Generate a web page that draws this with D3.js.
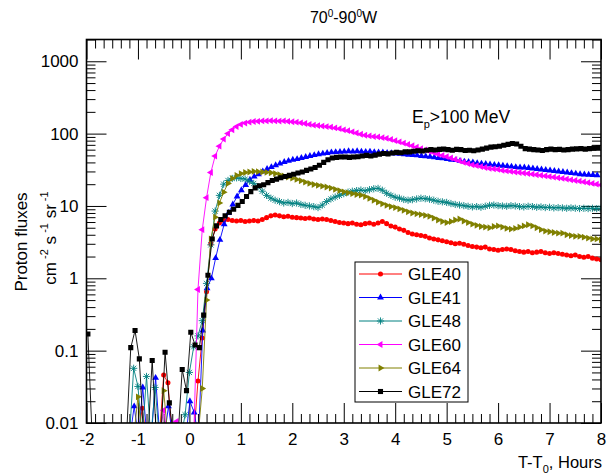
<!DOCTYPE html>
<html>
<head>
<meta charset="utf-8">
<script src="https://cdn.jsdelivr.net/npm/d3@7"></script>
<style>
  body { margin: 0; background: #fff; }
  svg { display: block; }
  text { font-family: Arial, "Liberation Sans", Helvetica, sans-serif; fill: #000; }
</style>
</head>
<body>
<svg id="chart" width="613" height="475"></svg>
<script>
// Time axis (hours after T0) and flux axis ticks
const hourTicks = [-2, -1, 0, 1, 2, 3, 4, 5, 6, 7, 8];
const hourTickLabels = ["-2", "-1", "0", "1", "2", "3", "4", "5", "6", "7", "8"];
const fluxTicks = [0.01, 0.1, 1, 10, 100, 1000];
const fluxTickLabels = ["0.01", "0.1", "1", "10", "100", "1000"];

// 5-minute samples; 0 means no count above background (drawn below the axis)
const sampleStep = 1 / 12;

const gle40Start = -2;
const gle40 = [
  0, 0, 0, 0, 0, 0, 0, 0, 0, 0, 0, 0,
  0, 0.016, 0, 0, 0, 0, 0.046, 0.036, 0, 0, 0, 0,
  0, 0, 0.038, 0.15, 0.65, 3.0, 4.8, 5.8, 6.3, 6.5, 6.3, 6.2,
  6.3, 6.1, 6.2, 6.3, 6.2, 6.5, 6.9, 7.3, 7.5, 7.3, 7.1, 7.2,
  7.0, 6.9, 6.8, 6.7, 6.8, 6.6, 6.5, 6.6, 6.5, 6.3, 6.1, 5.9,
  5.8, 5.7, 5.8, 5.6, 5.5, 5.7, 5.8, 5.6, 5.8, 6.1, 5.7, 5.3,
  5.1, 4.8, 4.6, 4.3, 4.1, 4.0, 3.9, 3.8, 3.6, 3.5, 3.4, 3.3,
  3.2, 3.1, 3.0, 3.05, 2.95, 2.85, 2.75, 2.7, 2.65, 2.7, 2.55, 2.5,
  2.45, 2.5, 2.55, 2.5, 2.4, 2.35, 2.3, 2.35, 2.25, 2.3, 2.35, 2.25,
  2.2, 2.25, 2.2, 2.15, 2.1, 2.05, 2.1, 2.0, 1.95, 2.0, 1.9, 1.85,
  1.8
];

const gle41Start = -1.99;
const gle41 = [
  0, 0, 0, 0, 0, 0, 0, 0, 0, 0, 0, 0.017,
  0, 0.031, 0, 0, 0.042, 0, 0, 0.017, 0, 0, 0, 0,
  0.02, 0.014, 0, 0.19, 0.73, 1.0, 1.9, 3.4, 5.6, 8.0, 10.5, 13.5,
  16.5, 19.5, 23, 25.5, 27.5, 30, 32.5, 34.5, 36.5, 38.5, 40.5, 42,
  43.5, 44.5, 46, 47.5, 49, 50.5, 52, 53, 54, 55, 55.5, 56,
  56.5, 57, 56.5, 57, 56.5, 56, 56.5, 55.5, 55, 55, 54, 53.5,
  53, 52.5, 52, 51, 50.5, 50, 49, 48.5, 48, 47, 46, 45.5,
  44.5, 43.5, 43, 42, 41, 40.5, 40, 39, 38.5, 38, 37.5, 37,
  36.5, 36, 35.5, 35, 34.5, 34, 34, 33.5, 33, 32.5, 32, 31.5,
  31, 30.5, 30, 29.5, 29, 28.5, 28, 27.5, 27.2, 27, 26.8, 26.5
];

const gle48Start = -2;
const gle48 = [
  0, 0, 0, 0, 0, 0, 0, 0, 0, 0, 0, 0.057,
  0.032, 0, 0.044, 0, 0.031, 0, 0, 0, 0, 0, 0, 0.013,
  0.05, 0.113, 0.16, 0.26, 0.85, 2.9, 8.5, 14, 20, 22.5, 24, 24.5,
  24, 23.5, 22, 20.5, 18.5, 16, 14, 12.8, 12, 11.5, 11, 11.2,
  10.8, 11, 10.5, 10.2, 10, 9.8, 9.5, 10.3, 11.5, 12.5, 13.3, 14,
  14.8, 15.5, 16, 16.3, 16.6, 16.2, 16.8, 17.3, 17.5, 16.5, 15, 14,
  13.2, 12.8, 12.3, 12, 12.2, 12.5, 12.8, 12.6, 12.4, 12, 11.6, 11.4,
  11.2, 10.8, 10.5, 10.3, 10.1, 9.9, 9.7, 9.8, 9.6, 9.9, 10.2, 10.3,
  10.1, 10, 9.9, 10.1, 10, 9.8, 9.7, 9.9, 9.8, 9.6, 9.7, 9.5,
  9.6, 9.4, 9.5, 9.4, 9.3, 9.4, 9.3, 9.2, 9.3, 9.2, 9.3, 9.2,
  9.3
];

const gle60Start = -2;
const gle60 = [
  0, 0, 0, 0, 0, 0, 0, 0, 0, 0, 0, 0,
  0, 0, 0, 0, 0, 0, 0.015, 0, 0, 0.0105, 0, 0,
  0, 0, 0.7, 4.7, 13, 29, 49, 67, 84, 100, 113, 125,
  134, 140, 144, 147, 148, 150, 150, 151, 150, 149, 150, 148,
  146, 144, 141, 138, 134, 131, 129, 127, 125, 123, 120, 117,
  113, 110, 106, 102, 98, 95, 93, 91, 90, 88, 86, 83,
  80, 77, 74, 71, 68, 65, 62, 59.5, 57, 54.5, 52, 50,
  48, 46, 44, 42, 40, 38.5, 37, 36, 35, 34, 33, 32.5,
  32, 31, 30.5, 30, 29.5, 29, 28.5, 28, 27.5, 27, 26.5, 26,
  25.5, 25, 24.5, 24, 23.5, 23, 22.5, 22, 21.5, 21, 20.5, 20,
  19.5
];

const gle64Start = -2;
const gle64 = [
  0, 0, 0, 0, 0, 0, 0, 0, 0, 0, 0, 0,
  0.023, 0, 0, 0, 0, 0, 0.028, 0, 0, 0, 0, 0,
  0, 0, 0, 0.03, 0.5, 3.5, 7, 11, 15.5, 20.5, 24, 26.5,
  28, 29, 29.5, 30, 29.8, 29.5, 29.2, 28.8, 28, 27, 26, 25,
  24.2, 23.3, 22.3, 21.3, 20.5, 19.8, 19.3, 18.8, 18.3, 17.7, 17, 16.3,
  15.7, 15.2, 14.8, 14.4, 14.1, 13.5, 12.7, 12, 11.3, 10.7, 10.2, 9.8,
  9.5, 9.1, 8.7, 8.3, 8.0, 7.8, 7.6, 7.4, 7.2, 6.8, 6.4, 6.1,
  5.9, 6.1, 6.4, 6.6, 6.2, 5.9, 5.6, 5.4, 5.2, 5.1, 5.0, 5.2,
  5.3, 5.1, 4.9, 4.8, 4.9, 5.1, 5.3, 5.5, 5.3, 5.0, 4.7, 4.5,
  4.4, 4.3, 4.2, 4.2, 4.0, 3.9, 3.8, 3.8, 3.7, 3.6, 3.5, 3.5,
  3.4
];

const gle72Start = -1.973;
const gle72 = [
  0.17, 0, 0, 0, 0, 0, 0, 0, 0, 0, 0.11, 0.19,
  0.077, 0, 0, 0.073, 0, 0, 0.095, 0.019, 0, 0, 0.055, 0.028,
  0.18, 0.12, 0.11, 0.31, 1.1, 3.5, 5.3, 6.5, 7.3, 8.2, 9.0, 10.2,
  11.5, 13.5, 15.8, 17.8, 19.0, 19.6, 21, 22.5, 23.5, 24.5, 25.5, 26.5,
  27.5, 28.5, 29.5, 31, 32.5, 34, 36.5, 40, 43.5, 46, 47, 47.5,
  47.5, 47, 47.5, 48, 49, 50, 49, 50.5, 52, 53, 52.5, 54,
  55, 54.5, 56, 56, 57, 58, 57.5, 59, 60, 59.5, 60.5, 61,
  60, 59, 60.5, 60, 58.5, 59, 58, 59.5, 61, 63, 65, 66,
  67, 69, 71, 73, 72, 67, 62, 61, 60, 59.5, 58.5, 60,
  61, 60, 60.5, 59.5, 60, 61, 61.5, 62, 61, 62, 63, 64
];

const seriesNames = ["GLE40", "GLE41", "GLE48", "GLE60", "GLE64", "GLE72"];
const seriesColors = ["#ff0000", "#0000ff", "#008080", "#ff00ff", "#808000", "#000000"];
const seriesMarkers = ["circle", "triangleUp", "asterisk", "triangleLeft", "triangleRight", "square"];
const seriesStarts = [gle40Start, gle41Start, gle48Start, gle60Start, gle64Start, gle72Start];
const seriesValues = [gle40, gle41, gle48, gle60, gle64, gle72];

// ---- layout ----
const svg = d3.select("#chart");
const plot = { left: 86.5, right: 601, top: 39.5, bottom: 423 };

const x = d3.scaleLinear().domain([-2, 8]).range([plot.left, plot.right]);
const y = d3.scaleLog().domain([0.01, 2000]).range([plot.bottom, plot.top]);
const yPos = v => (v > 0 ? y(v) : plot.bottom + 15);

svg.append("defs").append("clipPath").attr("id", "plotClip")
  .append("rect")
  .attr("x", plot.left).attr("y", plot.top)
  .attr("width", plot.right - plot.left).attr("height", plot.bottom - plot.top);

// marker shapes
const triPath = d3.symbol().type(d3.symbolTriangle).size(20)();
function markerPath(kind) {
  switch (kind) {
    case "circle": return d3.symbol().type(d3.symbolCircle).size(20)();
    case "square": return d3.symbol().type(d3.symbolSquare).size(26)();
    case "asterisk": return "M-3.6,0L3.6,0M0,-3.6L0,3.6M-2.6,-2.6L2.6,2.6M-2.6,2.6L2.6,-2.6";
    default: return triPath;
  }
}
function markerRotation(kind) {
  if (kind === "triangleLeft") return -90;
  if (kind === "triangleRight") return 90;
  return 0;
}
function drawMarker(g, kind, color, cx, cy) {
  const p = g.append("path")
    .attr("d", markerPath(kind))
    .attr("transform", `translate(${cx},${cy}) rotate(${markerRotation(kind)})`);
  if (kind === "asterisk") {
    p.attr("fill", "none").attr("stroke", color).attr("stroke-width", 0.9);
  } else {
    p.attr("fill", color).attr("stroke", "none");
  }
}

// ---- axes (ticks on all four sides, pointing inward) ----
const minorHours = d3.range(-2, 8.0001, 1 / 6).filter(t => Math.abs(t - Math.round(t)) > 1e-6);
const minorFlux = [];
for (let e = -2; e <= 3; e++) {
  for (let m = 2; m <= 9; m++) {
    const v = m * Math.pow(10, e);
    if (v <= 2000) minorFlux.push(v);
  }
}

function addAxis(axis, tx, ty) {
  const g = svg.append("g").attr("transform", `translate(${tx},${ty})`).call(axis);
  g.select(".domain").remove();
  g.selectAll(".tick line").attr("stroke", "#000").attr("stroke-width", 1);
  return g;
}

const majorLen = 20, minorLen = 9;
// bottom
const xb = addAxis(d3.axisBottom(x).tickValues(hourTicks).tickSize(-majorLen).tickPadding(10)
  .tickFormat((d, i) => hourTickLabels[i]), 0, plot.bottom);
xb.selectAll("text").attr("font-size", 17).attr("font-family", "Arial, 'Liberation Sans', sans-serif");
addAxis(d3.axisBottom(x).tickValues(minorHours).tickSize(-minorLen).tickFormat(""), 0, plot.bottom);
// top
addAxis(d3.axisTop(x).tickValues(hourTicks).tickSize(-majorLen).tickFormat(""), 0, plot.top);
addAxis(d3.axisTop(x).tickValues(minorHours).tickSize(-minorLen).tickFormat(""), 0, plot.top);
// left
const yl = addAxis(d3.axisLeft(y).tickValues(fluxTicks).tickSize(-majorLen).tickPadding(8)
  .tickFormat((d, i) => fluxTickLabels[i]), plot.left, 0);
yl.selectAll("text").attr("font-size", 17).attr("font-family", "Arial, 'Liberation Sans', sans-serif");
addAxis(d3.axisLeft(y).tickValues(minorFlux).tickSize(-minorLen).tickFormat(""), plot.left, 0);
// right
addAxis(d3.axisRight(y).tickValues(fluxTicks).tickSize(-majorLen).tickFormat(""), plot.right, 0);
addAxis(d3.axisRight(y).tickValues(minorFlux).tickSize(-minorLen).tickFormat(""), plot.right, 0);

// ---- series ----
const dataLayer = svg.append("g").attr("clip-path", "url(#plotClip)");
const line = d3.line().x(d => x(d.t)).y(d => yPos(d.v));

seriesNames.forEach((name, si) => {
  const pts = seriesValues[si].map((v, i) => ({ t: seriesStarts[si] + i * sampleStep, v }));
  const color = seriesColors[si];
  const g = dataLayer.append("g").attr("class", "series " + name);
  g.append("path").datum(pts)
    .attr("d", line)
    .attr("fill", "none")
    .attr("stroke", color)
    .attr("stroke-width", 0.9);
  pts.filter(d => d.v > 0).forEach(d => drawMarker(g, seriesMarkers[si], color, x(d.t), y(d.v)));
});

// ---- frame ----
svg.append("rect")
  .attr("x", plot.left).attr("y", plot.top)
  .attr("width", plot.right - plot.left).attr("height", plot.bottom - plot.top)
  .attr("fill", "none").attr("stroke", "#000").attr("stroke-width", 1.6);

// ---- legend ----
const legend = svg.append("g").attr("transform", "translate(355,262)");
legend.append("rect").attr("x", 0).attr("y", 0).attr("width", 113).attr("height", 140)
  .attr("fill", "#fff").attr("stroke", "#000").attr("stroke-width", 1);
seriesNames.forEach((name, si) => {
  const cy = 12 + si * 23.5;
  legend.append("line").attr("x1", 4).attr("x2", 47).attr("y1", cy).attr("y2", cy)
    .attr("stroke", seriesColors[si]).attr("stroke-width", 1);
  drawMarker(legend, seriesMarkers[si], seriesColors[si], 25.5, cy);
  legend.append("text").attr("x", 53).attr("y", cy + 6).attr("font-size", 17).text(name);
});

// ---- texts ----
const title = svg.append("text").attr("x", 343.5).attr("y", 23).attr("text-anchor", "middle").attr("font-size", 16);
title.append("tspan").text("70");
title.append("tspan").attr("dy", -6).attr("font-size", 10).text("0");
title.append("tspan").attr("dy", 6).text("-90");
title.append("tspan").attr("dy", -6).attr("font-size", 10).text("0");
title.append("tspan").attr("dy", 6).text("W");

const ep = svg.append("text").attr("x", 412).attr("y", 123).attr("font-size", 17.5);
ep.append("tspan").text("E");
ep.append("tspan").attr("dy", 5).attr("font-size", 11).text("p");
ep.append("tspan").attr("dy", -5).text(">100 MeV");

svg.append("text").attr("transform", "translate(27,242) rotate(-90)")
  .attr("text-anchor", "middle").attr("font-size", 17).text("Proton fluxes");
const yl2 = svg.append("text").attr("transform", "translate(56,238) rotate(-90)")
  .attr("text-anchor", "middle").attr("font-size", 17);
yl2.append("tspan").text("cm");
yl2.append("tspan").attr("dy", -8).attr("font-size", 11).text(" -2");
yl2.append("tspan").attr("dy", 8).text(" s");
yl2.append("tspan").attr("dy", -8).attr("font-size", 11).text(" -1");
yl2.append("tspan").attr("dy", 8).text(" sr");
yl2.append("tspan").attr("dy", -8).attr("font-size", 11).text(" -1");

const xt = svg.append("text").attr("x", 602).attr("y", 468).attr("text-anchor", "end").attr("font-size", 16.5);
xt.append("tspan").text("T-T");
xt.append("tspan").attr("dy", 5).attr("font-size", 11).text("0");
xt.append("tspan").attr("dy", -5).text(", Hours");
</script>
</body>
</html>
